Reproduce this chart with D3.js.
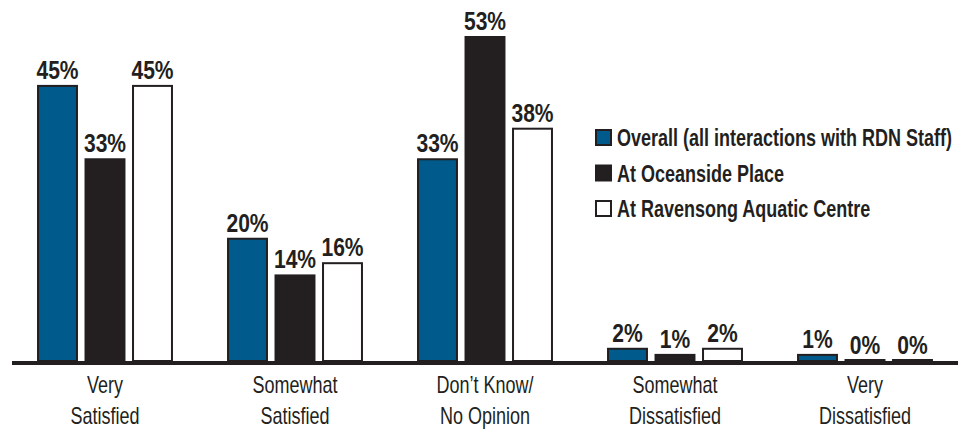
<!DOCTYPE html>
<html><head><meta charset="utf-8">
<script src="https://cdn.jsdelivr.net/npm/d3@7"></script>
<style>body{margin:0;background:#fff}svg{display:block}</style>
</head><body>
<svg id="c" width="971" height="430"></svg>
<script>
const categories = [["Very","Satisfied"],["Somewhat","Satisfied"],["Don\u2019t Know/","No Opinion"],["Somewhat","Dissatisfied"],["Very","Dissatisfied"]];
const seriesNames = ["Overall (all interactions with RDN Staff)","At Oceanside Place","At Ravensong Aquatic Centre"];
const overall = [45,20,33,2,1];
const oceanside = [33,14,53,1,0];
const ravensong = [45,16,38,2,0];
const seriesValues = [overall, oceanside, ravensong];
const colors = ["#015a8c","#231f20","#ffffff"];

const svg = d3.select("#c");
const FONT = "'Liberation Sans',Arial,sans-serif";
function txt(parent, x, yy, sx){
  return parent.append("text").attr("transform",`translate(${x},${yy}) scale(${sx},1)`)
    .attr("font-family",FONT).attr("fill","#231f20");
}
const x0 = d3.scaleBand().domain(d3.range(categories.length)).range([10,960]).paddingInner(0).paddingOuter(0);
const x1 = d3.scaleBand().domain(d3.range(3)).range([0,x0.bandwidth()]).paddingInner(0.18).paddingOuter(0.59);
const y = d3.scaleLinear().domain([0,53]).range([361,37]);

const g = svg.append("g");
categories.forEach((c,ci)=>{
  seriesValues.forEach((vals,si)=>{
    const v = vals[ci];
    const bx = x0(ci)+x1(si);
    g.append("rect").attr("x",bx).attr("y",Math.min(y(v),y(0)-1)).attr("width",x1.bandwidth())
      .attr("height",Math.max(1,y(0)-y(v))).attr("fill",colors[si])
      .attr("stroke","#231f20").attr("stroke-width",2);
    txt(g, bx+x1.bandwidth()/2, y(v)-7, 0.81).attr("text-anchor","middle").attr("font-weight","bold")
      .attr("font-size",26).text(v+"%");
  });
  const t = txt(g, x0(ci)+x0.bandwidth()/2, 393, 0.75).attr("text-anchor","middle").attr("font-size",24);
  c.forEach((line,li)=>{
    t.append("tspan").attr("x",0).attr("y",li*31).text(line);
  });
});
// axis baseline
g.append("line").attr("x1",12).attr("x2",958).attr("y1",y(0)+2).attr("y2",y(0)+2)
  .attr("stroke","#231f20").attr("stroke-width",4);

// legend
const lg = svg.append("g");
seriesNames.forEach((n,i)=>{
  const ly = 137 + i*35.5;
  lg.append("rect").attr("x",596).attr("y",ly-7).attr("width",15).attr("height",15)
    .attr("fill",colors[i]).attr("stroke","#231f20").attr("stroke-width",2);
  txt(lg, 617, ly+9, 0.75).attr("font-weight","bold").attr("font-size",24).text(n);
});
</script>
</body></html>
